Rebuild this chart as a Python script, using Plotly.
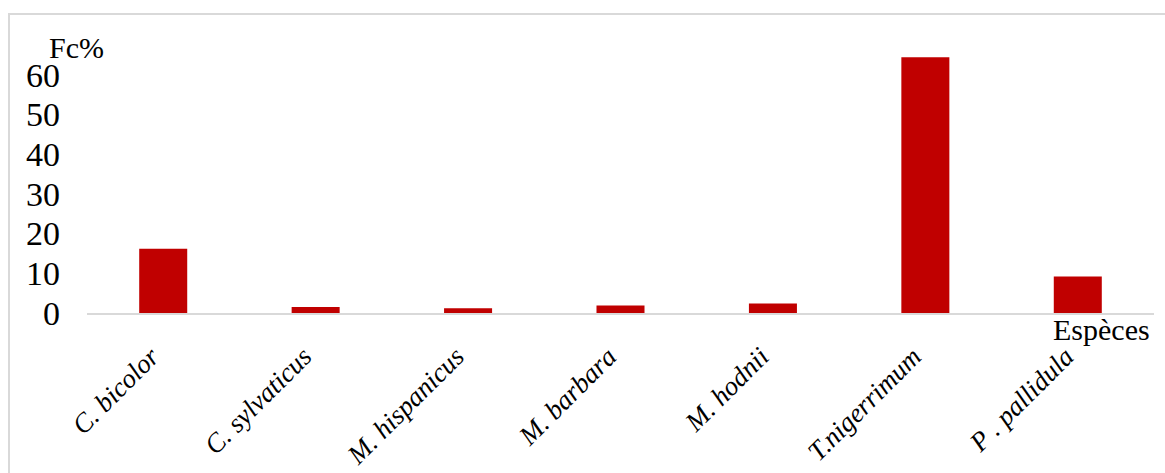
import plotly.graph_objects as go

species = ["C. bicolor", "C. sylvaticus", "M. hispanicus", "M. barbara",
           "M. hodnii", "T.nigerrimum", "P . pallidula"]
fc_values = [16.2, 1.5, 1.2, 1.9, 2.4, 64.4, 9.2]
y_ticks = [0, 10, 20, 30, 40, 50, 60]

W, H = 1165, 473
ML, MR, MT, MB = 87, 11, 35, 160
pw = W - ML - MR
ph = H - MT - MB

fig = go.Figure(go.Bar(
    x=species, y=fc_values,
    marker=dict(color="#c00000", line=dict(width=0)),
))

fig.update_layout(
    width=W, height=H,
    margin=dict(l=ML, r=MR, t=MT, b=MB, autoexpand=False),
    paper_bgcolor="white", plot_bgcolor="white",
    bargap=0.685,
    showlegend=False,
    font=dict(family="Liberation Serif", color="black"),
)
fig.update_xaxes(
    automargin=False,
    showline=True, linecolor="#d9d9d9", linewidth=2,
    showgrid=False, ticks="", tickangle=-45,
    tickfont=dict(family="Liberation Serif", size=27, style="italic"),
    ticklabelstandoff=15, ticklabelshift=-12,
)
fig.update_yaxes(
    automargin=False,
    range=[0, 70], tickvals=y_ticks, ticktext=[str(v) for v in y_ticks],
    showline=False, showgrid=False, zeroline=False, ticks="",
    tickfont=dict(family="Liberation Serif", size=34),
    ticklabelstandoff=26,
)

fig.add_annotation(
    text="Fc%", xref="paper", yref="y",
    x=(47 - ML) / pw, y=66.8, xanchor="left", yanchor="middle",
    showarrow=False, font=dict(family="Liberation Serif", size=30),
)
fig.add_annotation(
    text="Espèces", xref="paper", yref="paper",
    x=(1152 - ML) / pw, y=0, xanchor="right", yanchor="top", yshift=2,
    showarrow=False, font=dict(family="Liberation Serif", size=30),
)
fig.add_shape(
    type="rect", xref="paper", yref="paper",
    x0=(9 - ML) / pw, x1=(1180 - ML) / pw,
    y0=(H - MB - 490) / ph, y1=(H - MB - 14) / ph,
    line=dict(color="#d9d9d9", width=2), fillcolor="rgba(0,0,0,0)",
    layer="below",
)

fig.write_html("out.html", config={"displayModeBar": False},
               post_script="document.body.style.margin='0';")
